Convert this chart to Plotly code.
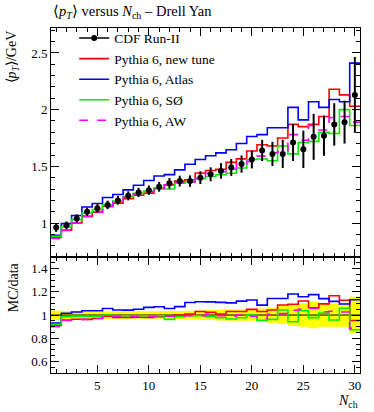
import plotly.graph_objects as go

# <pT> vs Nch, Drell-Yan: CDF Run-II data and Pythia 6 tunes
n_ch = list(range(1, 31))
cdf = [0.96, 0.98, 1.04, 1.10, 1.13, 1.16, 1.20, 1.24, 1.27, 1.29,
       1.32, 1.35, 1.37, 1.37, 1.40, 1.43, 1.46, 1.49, 1.52, 1.56,
       1.64, 1.61, 1.61, 1.71, 1.65, 1.76, 1.77, 1.87, 1.89, 2.13]
cdf_rel_err = [0.040, 0.035, 0.035, 0.033, 0.033, 0.032, 0.032, 0.032, 0.032, 0.032,
               0.033, 0.035, 0.035, 0.037, 0.040, 0.043, 0.047, 0.050, 0.050, 0.050,
               0.057, 0.066, 0.077, 0.095, 0.100, 0.115, 0.100, 0.100, 0.100, 0.157]
new_tune = [0.874, 0.938, 1.002, 1.059, 1.096, 1.148, 1.176, 1.215, 1.245, 1.264,
            1.302, 1.337, 1.370, 1.382, 1.442, 1.463, 1.473, 1.535, 1.566, 1.636,
            1.69, 1.68, 1.75, 1.87, 1.85, 1.87, 1.94, 2.18, 2.13, 2.03]
atlas = [0.893, 0.995, 1.067, 1.141, 1.172, 1.226, 1.252, 1.293, 1.334, 1.375,
         1.415, 1.427, 1.469, 1.519, 1.560, 1.593, 1.619, 1.646, 1.702, 1.763,
         1.78, 1.84, 1.84, 2.02, 1.91, 2.07, 2.02, 2.09, 2.07, 2.41]
so_tune = [0.883, 0.966, 1.030, 1.089, 1.119, 1.160, 1.193, 1.233, 1.262, 1.282,
           1.312, 1.300, 1.351, 1.362, 1.392, 1.410, 1.426, 1.439, 1.485, 1.560,
           1.565, 1.55, 1.68, 1.61, 1.71, 1.72, 1.80, 1.79, 2.00, 1.86]
aw_tune = [0.864, 0.935, 1.002, 1.059, 1.096, 1.144, 1.188, 1.228, 1.257, 1.277,
           1.307, 1.337, 1.356, 1.363, 1.393, 1.439, 1.453, 1.475, 1.520, 1.544,
           1.59, 1.62, 1.63, 1.78, 1.73, 1.86, 1.82, 1.93, 1.94, 1.89]

FONT = "Liberation Serif"

# bin edges for step histograms
edges = [n - 0.5 for n in n_ch] + [n_ch[-1] + 0.5]


def steps(vals):
    return list(vals) + [vals[-1]]


fig = go.Figure()

# Ratio band (data uncertainty)
band_lo = [1 - e for e in cdf_rel_err]
band_hi = [1 + e for e in cdf_rel_err]
fig.add_trace(go.Scatter(x=edges, y=steps(band_lo), mode='lines', line_shape='hv',
                         line=dict(width=0, color='#ffff00'), xaxis='x2', yaxis='y2',
                         showlegend=False, hoverinfo='skip'))
fig.add_trace(go.Scatter(x=edges, y=steps(band_hi), mode='lines', line_shape='hv',
                         line=dict(width=0, color='#ffff00'), fill='tonexty',
                         fillcolor='#ffff00', xaxis='x2', yaxis='y2',
                         showlegend=False, hoverinfo='skip'))
fig.add_trace(go.Scatter(x=[edges[0], edges[-1]], y=[1, 1], mode='lines',
                         line=dict(width=1, color='black'), xaxis='x2', yaxis='y2',
                         showlegend=False, hoverinfo='skip'))

mc = [
    ('Pythia 6, new tune', new_tune, '#ff0000', 'solid'),
    ('Pythia 6, Atlas', atlas, '#0000ff', 'solid'),
    ('Pythia 6, SØ', so_tune, '#00ee00', 'solid'),
    ('Pythia 6, AW', aw_tune, '#ff00ff', 'dash'),
]

# legend entry for data
fig.add_trace(go.Scatter(x=[None], y=[None], mode='lines+markers', name='CDF Run-II',
                         line=dict(color='black', width=1.5),
                         marker=dict(color='black', size=6)))

for name, vals, col, dash in mc:
    fig.add_trace(go.Scatter(x=edges, y=steps(vals), mode='lines', line_shape='hv',
                             name=name, line=dict(color=col, width=1.6, dash=dash)))
    ratio = [m / d for m, d in zip(vals, cdf)]
    fig.add_trace(go.Scatter(x=edges, y=steps(ratio), mode='lines', line_shape='hv',
                             line=dict(color=col, width=1.6, dash=dash),
                             xaxis='x2', yaxis='y2', showlegend=False))

# data points
fig.add_trace(go.Scatter(
    x=n_ch, y=cdf, mode='markers', showlegend=False,
    marker=dict(color='black', size=6),
    error_y=dict(type='data', array=[d * e for d, e in zip(cdf, cdf_rel_err)],
                 color='black', thickness=2, width=0)
))

axis_common = dict(
    showline=True, linecolor='black', linewidth=1, mirror='allticks',
    ticks='inside', ticklen=8, tickcolor='black', showgrid=False, zeroline=False,
    tickfont=dict(family=FONT, size=13, color='black'),
)
minor_common = dict(ticks='inside', ticklen=4, tickcolor='black', showgrid=False)

fig.update_layout(
    width=374, height=412,
    margin=dict(l=51, r=14, t=28, b=39),
    plot_bgcolor='white', paper_bgcolor='white',
    font=dict(family=FONT, size=13, color='black'),
    xaxis=dict(axis_common, domain=[0, 1], range=[0.5, 30.5], anchor='y',
               dtick=5, tick0=0, showticklabels=False, matches='x2',
               minor=dict(minor_common, dtick=1)),
    yaxis=dict(axis_common, domain=[0.336, 1], range=[0.7, 2.72], anchor='x',
               dtick=0.5, tick0=0, minor=dict(minor_common, dtick=0.1)),
    xaxis2=dict(axis_common, domain=[0, 1], range=[0.5, 30.5], anchor='y2',
                dtick=5, tick0=0, minor=dict(minor_common, dtick=1)),
    yaxis2=dict(axis_common, domain=[0, 0.336], range=[0.5, 1.5], anchor='x2',
                dtick=0.2, tick0=0, minor=dict(minor_common, dtick=0.05)),
    legend=dict(x=0.075, y=1.015, xanchor='left', yanchor='top', traceorder='normal',
                bgcolor='rgba(0,0,0,0)', font=dict(family=FONT, size=13.5),
                tracegroupgap=0),
    annotations=[
        dict(text='⟨<i>p</i><sub><i>T</i></sub>⟩ versus <i>N</i><sub>ch</sub> – Drell Yan',
             xref='paper', yref='paper', x=0.0, y=1.046, xanchor='left', yanchor='middle',
             showarrow=False, font=dict(family=FONT, size=14.5)),
        dict(text='⟨<i>p</i><sub><i>T</i></sub>⟩/GeV', textangle=-90,
             xref='paper', yref='paper', x=-0.123, y=1.0, xanchor='center', yanchor='top',
             showarrow=False, font=dict(family=FONT, size=14)),
        dict(text='MC/data', textangle=-90,
             xref='paper', yref='paper', x=-0.123, y=0.327, xanchor='center', yanchor='top',
             showarrow=False, font=dict(family=FONT, size=14)),
        dict(text='<i>N</i><sub>ch</sub>',
             xref='paper', yref='paper', x=1.0, y=-0.084, xanchor='right', yanchor='middle',
             showarrow=False, font=dict(family=FONT, size=14)),
    ],
)

# drop the default page margin so the figure sits at the window's corner
fig.write_html("out.html", config={'displayModeBar': False},
               post_script="document.body.style.margin='0px';")
